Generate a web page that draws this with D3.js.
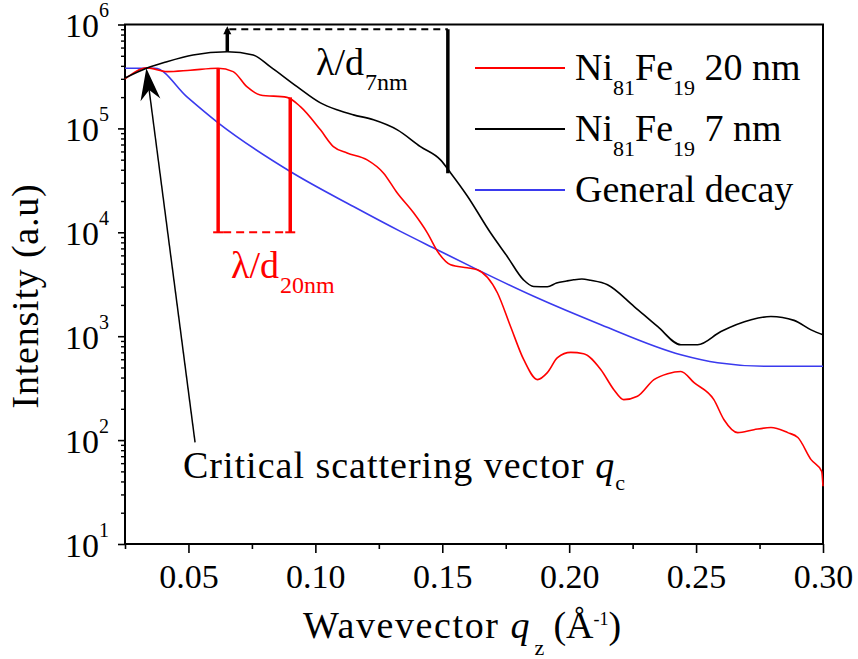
<!DOCTYPE html>
<html>
<head>
<meta charset="utf-8">
<script src="https://cdn.jsdelivr.net/npm/d3@7"></script>
<style>
  html, body { margin: 0; padding: 0; background: #fff; }
  svg { display: block; }
  text { font-family: "Liberation Serif", "Times New Roman", serif; }
</style>
</head>
<body>
<svg id="chart" width="858" height="659"></svg>
<script>
// X-ray reflectivity curves: intensity versus wavevector q_z
const qRed = [0.025, 0.0337, 0.0415, 0.0507, 0.0617, 0.0676, 0.073, 0.0783, 0.0888, 0.0941,
  0.102, 0.1071, 0.1125, 0.1204, 0.1268, 0.1322, 0.1387, 0.1441, 0.1485, 0.1533,
  0.1598, 0.1638, 0.1717, 0.1769, 0.1821, 0.1875, 0.1914, 0.1954, 0.2006, 0.2057,
  0.2125, 0.2176, 0.2215, 0.2269, 0.2334, 0.2388, 0.244, 0.2492, 0.257, 0.261,
  0.2664, 0.2728, 0.2795, 0.2861, 0.2901, 0.2953, 0.2995, 0.300];
const iRed = [299000, 382000, 352000, 363000, 379000, 352000, 252000, 210000, 199000, 162000,
  96800, 66800, 58100, 49800, 37300, 24000, 15400, 9890, 6350, 4870,
  4560, 4370, 2620, 1240, 594, 382, 446, 621, 698, 679,
  476, 306, 245, 264, 382, 436, 458, 357, 245, 157,
  118, 126, 132, 118, 106, 64.9, 50, 36];

const qBlack = [0.025, 0.0337, 0.0415, 0.0518, 0.0653, 0.0755, 0.0822, 0.0928, 0.102, 0.1085,
  0.115, 0.1229, 0.1323, 0.1414, 0.1493, 0.1533, 0.1598, 0.169, 0.1756,
  0.182, 0.186, 0.1914, 0.195, 0.199, 0.2018, 0.205, 0.2085, 0.2151, 0.2255,
  0.2348, 0.244, 0.2506, 0.2598, 0.2717, 0.2795, 0.2886, 0.2953, 0.300];
const iBlack = [306000, 382000, 439000, 509000, 547000, 509000, 393000, 252000, 176000, 151000,
  135000, 121000, 96800, 66800, 49800, 37300, 22500, 9890, 5850,
  3490, 3010, 2990, 3250, 3400, 3490, 3550, 3450, 3130, 1940,
  1240, 828, 828, 1110, 1440, 1550, 1420, 1150, 1030];

const qBlue = [0.025, 0.0368, 0.0493, 0.0617, 0.0901, 0.115, 0.1335, 0.148, 0.1638, 0.186,
  0.2125, 0.244, 0.2585, 0.2782, 0.300];
const iBlue = [379000, 379000, 202000, 113000, 38500, 17700, 10200, 6790, 4370, 2420,
  1290, 664, 556, 513, 513];

const xMajorTicks = [0.05, 0.10, 0.15, 0.20, 0.25, 0.30];
const xMinorTicks = [0.025, 0.075, 0.125, 0.175, 0.225, 0.275];
const yDecades = [10, 100, 1000, 10000, 100000, 1000000];
const yExponents = ["1", "2", "3", "4", "5", "6"];

// Fringe-period markers (q positions and intensity levels)
const redMarkQ = [0.0617, 0.0901];
const redMarkTop = [379000, 199000];
const redMarkBase = 10000;
const blackMarkQ = [0.0653, 0.1522];
const blackMarkBottom = [547000, 37000];
const blackMarkTop = 900000;

// Critical-angle arrow: tail and tip in data units
const arrowTail = [0.0526, 95];
const arrowTip = [0.0334, 380000];

const legendLabels = [["Ni", "81", "Fe", "19", " 20 nm"], ["Ni", "81", "Fe", "19", " 7 nm"], ["General decay"]];
const seriesColors = ["#ff0000", "#000000", "#3a3aee"];

const svg = d3.select("#chart");
const x = d3.scaleLinear().domain([0.025, 0.30]).range([125, 823]);
const y = d3.scaleLog().domain([10, 1e6]).range([544, 24.5]);

// Axes
const gx = svg.append("g").attr("transform", "translate(0,544)")
  .call(d3.axisBottom(x).tickValues(xMajorTicks).tickSize(9).tickFormat(d3.format(".2f")));
gx.select(".domain").remove();
gx.selectAll("line").attr("stroke-width", 1.6);
gx.selectAll("text").attr("y", 44).attr("dy", null).attr("font-size", 34)
  .attr("font-family", "Liberation Serif").attr("fill", "#000");
const gxm = svg.append("g").attr("transform", "translate(0,544)")
  .call(d3.axisBottom(x).tickValues(xMinorTicks).tickSize(5).tickFormat(""));
gxm.select(".domain").remove();
gxm.selectAll("line").attr("stroke-width", 1.6);

const gy = svg.append("g").attr("transform", "translate(125,0)")
  .call(d3.axisLeft(y).tickValues(yDecades).tickSize(7).tickFormat(""));
gy.select(".domain").remove();
gy.selectAll("line").attr("stroke-width", 1.6);
gy.selectAll(".tick").each(function (d, i) {
  const t = d3.select(this).select("text")
    .attr("x", -16).attr("y", 12).attr("dy", null).attr("fill", "#000")
    .attr("text-anchor", "end").attr("font-size", 34).attr("font-family", "Liberation Serif");
  t.text(null);
  t.append("tspan").text("10");
  t.append("tspan").attr("font-size", 20).attr("dy", -20).text(yExponents[i]);
});
const yMinor = [];
yDecades.slice(0, -1).forEach(d => { for (let k = 2; k <= 9; k++) yMinor.push(d * k); });
const gym = svg.append("g").attr("transform", "translate(125,0)")
  .call(d3.axisLeft(y).tickValues(yMinor).tickSize(4).tickFormat(""));
gym.select(".domain").remove();
gym.selectAll("line").attr("stroke-width", 1.4);

// Frame
svg.append("rect").attr("x", 125).attr("y", 24.5).attr("width", 698).attr("height", 519.5)
  .attr("fill", "none").attr("stroke", "#000").attr("stroke-width", 2);

// Curves
const line = d3.line().x(d => x(d[0])).y(d => y(d[1])).curve(d3.curveMonotoneX);
const curves = [
  [qBlue, iBlue, seriesColors[2]],
  [qRed, iRed, seriesColors[0]],
  [qBlack, iBlack, seriesColors[1]]
];
curves.forEach(([qs, is, c]) => {
  svg.append("path").datum(qs.map((q, i) => [q, is[i]]))
    .attr("d", line).attr("fill", "none").attr("stroke", c).attr("stroke-width", 1.6);
});

// Red fringe markers
redMarkQ.forEach((q, i) => {
  svg.append("line").attr("x1", x(q)).attr("x2", x(q)).attr("y1", y(redMarkTop[i])).attr("y2", y(redMarkBase))
    .attr("stroke", "#ff0000").attr("stroke-width", 3.5);
  svg.append("line").attr("x1", x(q) - 5).attr("x2", x(q) + 5).attr("y1", y(redMarkBase)).attr("y2", y(redMarkBase))
    .attr("stroke", "#ff0000").attr("stroke-width", 2);
});
svg.append("line").attr("x1", x(redMarkQ[0]) + 5).attr("x2", x(redMarkQ[1]) - 5)
  .attr("y1", y(redMarkBase)).attr("y2", y(redMarkBase))
  .attr("stroke", "#ff0000").attr("stroke-width", 2).attr("stroke-dasharray", "8,5");

// Black fringe markers
blackMarkQ.forEach((q, i) => {
  svg.append("line").attr("x1", x(q)).attr("x2", x(q)).attr("y1", y(blackMarkTop)).attr("y2", y(blackMarkBottom[i]))
    .attr("stroke", "#000").attr("stroke-width", 3.5);
});
{
  const xa = x(blackMarkQ[0]), ya = y(blackMarkTop);
  svg.append("path").attr("d", `M${xa},${ya - 3} L${xa - 4},${ya + 5} L${xa + 4},${ya + 5} Z`).attr("fill", "#000");
}
svg.append("line").attr("x1", x(blackMarkQ[0]) + 2).attr("x2", x(blackMarkQ[1]))
  .attr("y1", y(blackMarkTop)).attr("y2", y(blackMarkTop))
  .attr("stroke", "#000").attr("stroke-width", 2).attr("stroke-dasharray", "7,5");

// Labels for the markers
function subLabel(tx, ty, main, sub, color) {
  const t = svg.append("text").attr("x", tx).attr("y", ty).attr("font-size", 38).attr("fill", color);
  t.append("tspan").text(main);
  t.append("tspan").attr("font-size", 24).attr("dy", 15).attr("dx", 1).text(sub);
}
subLabel(316, 75, "λ/d", "7nm", "#000");
subLabel(231, 278, "λ/d", "20nm", "#ff0000");

// Critical scattering vector arrow
{
  const tx = x(arrowTail[0]), ty = y(arrowTail[1]);
  const hx = x(arrowTip[0]), hy = y(arrowTip[1]);
  const dx = hx - tx, dy = hy - ty, L = Math.hypot(dx, dy);
  const ux = dx / L, uy = dy / L, nx = -uy, ny = ux;
  const len = 32, hw = 10, notch = 22;
  svg.append("line").attr("x1", tx).attr("y1", ty).attr("x2", hx - ux * notch).attr("y2", hy - uy * notch)
    .attr("stroke", "#000").attr("stroke-width", 1.5);
  const p = [
    [hx, hy],
    [hx - ux * len + nx * hw, hy - uy * len + ny * hw],
    [hx - ux * notch, hy - uy * notch],
    [hx - ux * len - nx * hw, hy - uy * len - ny * hw]
  ];
  svg.append("path").attr("d", "M" + p.map(d => d.join(",")).join("L") + "Z").attr("fill", "#000");
}
{
  const t = svg.append("text").attr("x", 183).attr("y", 478).attr("font-size", 38)
    .attr("letter-spacing", 1).attr("fill", "#000");
  t.append("tspan").text("Critical scattering vector ");
  t.append("tspan").attr("font-style", "italic").text("q");
  t.append("tspan").attr("font-size", 22).attr("dy", 12).text("c");
}

// Legend
legendLabels.forEach((parts, i) => {
  const base = 80 + i * 61;
  svg.append("line").attr("x1", 475).attr("x2", 565).attr("y1", base - 12).attr("y2", base - 12)
    .attr("stroke", seriesColors[i]).attr("stroke-width", 2);
  const t = svg.append("text").attr("x", 575).attr("y", base).attr("font-size", 38).attr("fill", "#000");
  if (parts.length === 1) {
    t.text(parts[0]);
  } else {
    t.append("tspan").text(parts[0]);
    t.append("tspan").attr("font-size", 22).attr("dy", 15).text(parts[1]);
    t.append("tspan").attr("dy", -15).text(parts[2]);
    t.append("tspan").attr("font-size", 22).attr("dy", 15).text(parts[3]);
    t.append("tspan").attr("dy", -15).text(parts[4]);
  }
});

// Axis titles
{
  const t = svg.append("text").attr("x", 303).attr("y", 638).attr("font-size", 38).attr("fill", "#000");
  t.append("tspan").attr("letter-spacing", 1.6).text("Wavevector ");
  t.append("tspan").attr("font-style", "italic").text("q");
  t.append("tspan").attr("font-size", 22).attr("dy", 17).attr("dx", 5).text("z");
  t.append("tspan").attr("dy", -17).attr("dx", 9).text("(Å");
  t.append("tspan").attr("font-size", 18).attr("dy", -13).text("-1");
  t.append("tspan").attr("dy", 13).text(")");
}
svg.append("text").attr("transform", "translate(38,296) rotate(-90)").attr("fill", "#000")
  .attr("text-anchor", "middle").attr("font-size", 38).attr("letter-spacing", 0.8).text("Intensity (a.u)");
</script>
</body>
</html>
